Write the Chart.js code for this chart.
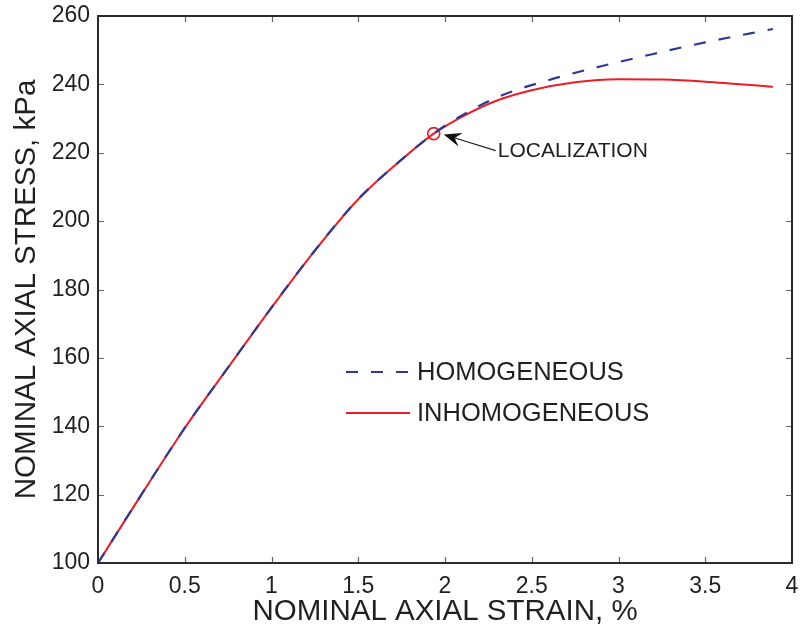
<!DOCTYPE html>
<html>
<head>
<meta charset="utf-8">
<script src="https://cdn.jsdelivr.net/npm/chart.js@4"></script>
<style>
  html, body { margin: 0; padding: 0; background: #fff; }
  #wrap { width: 800px; height: 630px; }
</style>
</head>
<body>
<div id="wrap"><canvas id="stressChart" width="800" height="630"></canvas></div>
<script>
  // homogeneous solution (dashed blue)
  const homStrain = [0, 0.25, 0.5, 0.75, 1.0, 1.25, 1.5, 1.75, 1.935, 2.1, 2.3, 2.6, 2.9, 3.2, 3.5, 3.89];
  const homStress = [100, 120, 139.5, 157.2, 174.7, 191.4, 206.4, 218.0, 225.6, 231.0, 236.2, 241.3, 245.3, 248.9, 252.3, 256.2];

  // inhomogeneous solution (solid red)
  const inhStrain = [0, 0.25, 0.5, 0.75, 1.0, 1.25, 1.5, 1.75, 1.935, 2.1, 2.3, 2.5, 2.75, 3.0, 3.25, 3.5, 3.89];
  const inhStress = [100, 120, 139.5, 157.2, 174.7, 191.4, 206.4, 218.0, 225.6, 230.6, 235.3, 238.3, 240.6, 241.5, 241.4, 240.8, 239.3];

  // localization point
  const locStrain = [1.935];
  const locStress = [225.6];

  const xTicks = [0, 0.5, 1, 1.5, 2, 2.5, 3, 3.5, 4];
  const yTicks = [100, 120, 140, 160, 180, 200, 220, 240, 260];

  const FONT = "'Liberation Sans', Arial, Helvetica, sans-serif";
  const TEXT = '#231f20';
  const BLUE = '#2e3a94';
  const RED = '#ed1c24';

  const toPts = (xs, ys) => xs.map((x, i) => ({ x: x, y: ys[i] }));

  // frame, inward ticks, legend and the localization arrow
  const decorations = {
    id: 'decorations',
    afterDatasetsDraw(chart) {
      const ctx = chart.ctx;
      const a = chart.chartArea;
      const xs = chart.scales.x, ys = chart.scales.y;
      ctx.save();

      // inward ticks on all sides
      ctx.strokeStyle = '#666';
      ctx.lineWidth = 1.2;
      const tl = 6;
      xTicks.forEach(v => {
        const px = Math.round(xs.getPixelForValue(v)) + 0.5;
        ctx.beginPath();
        ctx.moveTo(px, a.bottom); ctx.lineTo(px, a.bottom - tl);
        ctx.moveTo(px, a.top); ctx.lineTo(px, a.top + tl);
        ctx.stroke();
      });
      yTicks.forEach(v => {
        const py = Math.round(ys.getPixelForValue(v)) + 0.5;
        ctx.beginPath();
        ctx.moveTo(a.left, py); ctx.lineTo(a.left + tl, py);
        ctx.moveTo(a.right, py); ctx.lineTo(a.right - tl, py);
        ctx.stroke();
      });

      // frame
      ctx.strokeStyle = '#2b2b2b';
      ctx.lineWidth = 2;
      ctx.strokeRect(a.left, a.top, a.right - a.left, a.bottom - a.top);

      // legend
      const legendRows = [
        { ds: chart.data.datasets[0], y: 372 },
        { ds: chart.data.datasets[1], y: 413 }
      ];
      ctx.font = '25.5px ' + FONT;
      ctx.textBaseline = 'middle';
      ctx.textAlign = 'left';
      legendRows.forEach(r => {
        ctx.strokeStyle = r.ds.borderColor;
        ctx.lineWidth = r.ds.borderWidth;
        ctx.setLineDash(r.ds.borderDash || []);
        ctx.beginPath();
        ctx.moveTo(346, r.y); ctx.lineTo(410, r.y);
        ctx.stroke();
        ctx.setLineDash([]);
        ctx.fillStyle = TEXT;
        ctx.fillText(r.ds.label, 417, r.y + 1);
      });

      // localization arrow
      const lx = xs.getPixelForValue(locStrain[0]);
      const ly = ys.getPixelForValue(locStress[0]);
      const tipX = lx + 10, tipY = ly + 1;
      const tailX = lx + 62, tailY = ly + 17;
      const ang = Math.atan2(tailY - tipY, tailX - tipX);
      ctx.strokeStyle = '#222';
      ctx.lineWidth = 1.2;
      ctx.beginPath();
      ctx.moveTo(tipX + 10 * Math.cos(ang), tipY + 10 * Math.sin(ang));
      ctx.lineTo(tailX, tailY);
      ctx.stroke();
      const hl = 19, hw = 0.38;
      ctx.fillStyle = '#111';
      ctx.beginPath();
      ctx.moveTo(tipX, tipY);
      ctx.lineTo(tipX + hl * Math.cos(ang - hw), tipY + hl * Math.sin(ang - hw));
      ctx.lineTo(tipX + 0.6 * hl * Math.cos(ang), tipY + 0.6 * hl * Math.sin(ang));
      ctx.lineTo(tipX + hl * Math.cos(ang + hw), tipY + hl * Math.sin(ang + hw));
      ctx.closePath();
      ctx.fill();
      ctx.font = '21px ' + FONT;
      ctx.fillStyle = TEXT;
      ctx.fillText('LOCALIZATION', tailX + 2, tailY + 1);

      ctx.restore();
    }
  };

  const ctx = document.getElementById('stressChart').getContext('2d');
  const stressChart = new Chart(ctx, {
    type: 'scatter',
    data: {
      datasets: [{
        label: 'HOMOGENEOUS',
        data: toPts(homStrain, homStress),
        showLine: true,
        borderColor: BLUE,
        borderWidth: 2.2,
        borderDash: [12, 13],
        pointRadius: 0,
        cubicInterpolationMode: 'monotone'
      }, {
        label: 'INHOMOGENEOUS',
        data: toPts(inhStrain, inhStress),
        showLine: true,
        borderColor: RED,
        borderWidth: 2,
        pointRadius: 0,
        cubicInterpolationMode: 'monotone'
      }, {
        label: 'LOCALIZATION',
        data: toPts(locStrain, locStress),
        showLine: false,
        pointRadius: 6,
        pointBorderWidth: 1.6,
        pointBorderColor: RED,
        pointBackgroundColor: 'rgba(0,0,0,0)'
      }]
    },
    options: {
      responsive: false,
      animation: false,
      layout: { padding: { left: 0, right: 8, top: 16, bottom: 0 } },
      plugins: {
        legend: { display: false },
        tooltip: { enabled: false }
      },
      scales: {
        x: {
          type: 'linear',
          min: 0, max: 4,
          afterBuildTicks: s => { s.ticks = xTicks.map(v => ({ value: v })); },
          afterFit: s => { s.height = 67; s.paddingLeft = 0; s.paddingRight = 0; },
          grid: { display: false, drawTicks: false },
          border: { display: false },
          ticks: {
            padding: 10,
            color: TEXT,
            font: { family: FONT, size: 23 },
            callback: v => String(v)
          },
          title: {
            display: true,
            text: 'NOMINAL AXIAL STRAIN, %',
            color: TEXT,
            font: { family: FONT, size: 29.5 },
            padding: { top: 0, bottom: 0 }
          }
        },
        y: {
          type: 'linear',
          min: 100, max: 260,
          afterBuildTicks: s => { s.ticks = yTicks.map(v => ({ value: v })); },
          afterFit: s => { s.width = 98; s.paddingTop = 0; s.paddingBottom = 0; },
          grid: { display: false, drawTicks: false },
          border: { display: false },
          ticks: {
            padding: 8,
            color: TEXT,
            font: { family: FONT, size: 23 }
          },
          title: {
            display: true,
            text: 'NOMINAL AXIAL STRESS, kPa',
            color: TEXT,
            font: { family: FONT, size: 29.5 },
            padding: { top: 9, bottom: 0 }
          }
        }
      }
    },
    plugins: [decorations]
  });
</script>
</body>
</html>
